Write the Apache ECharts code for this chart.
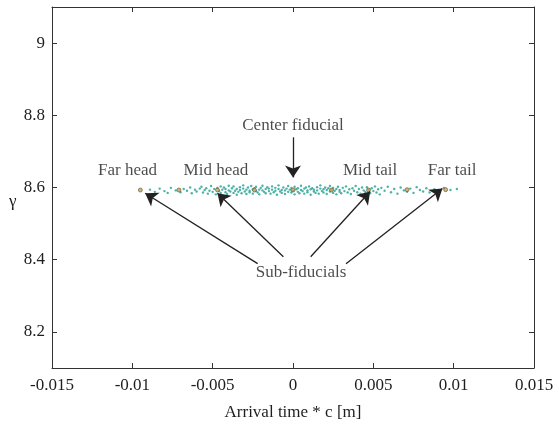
<!DOCTYPE html>
<html>
<head>
<meta charset="utf-8">
<script src="https://cdn.jsdelivr.net/npm/echarts@6/dist/echarts.min.js"></script>
<style>
html,body{margin:0;padding:0;background:#fff;}
#c{width:559px;height:429px;}
</style>
</head>
<body>
<div id="c"></div>
<script>
// Axis ticks
const xTicks = [-0.015, -0.01, -0.005, 0, 0.005, 0.01, 0.015];
const xTickLabels = ['-0.015', '-0.01', '-0.005', '0', '0.005', '0.01', '0.015'];
const yTicks = [8.2, 8.4, 8.6, 8.8, 9];
const yTickLabels = ['8.2', '8.4', '8.6', '8.8', '9'];

// Fiducial particles (x = arrival time * c [m], y = gamma)
const fiducialX = [-0.0095, -0.0071, -0.0047, -0.0024, 0, 0.0024, 0.0047, 0.0071, 0.0095];
const fiducialY = [8.593, 8.593, 8.593, 8.593, 8.593, 8.593, 8.593, 8.594, 8.594];

// Bunch particle cloud
const cloud = [
[-0.0089,8.594],[-0.0086,8.588],[-0.0083,8.597],[-0.0080,8.590],[-0.0078,8.585],[-0.0076,8.599],[-0.0073,8.592],[-0.0070,8.587],[-0.0068,8.596],[-0.0066,8.591],[-0.0064,8.600],[-0.0063,8.584],[-0.0061,8.594],[-0.0060,8.589],[-0.0058,8.597],
[-0.0057,8.602],[-0.0056,8.586],[-0.0055,8.593],[-0.0054,8.598],[-0.0053,8.583],[-0.0052,8.591],[-0.0051,8.604],[-0.0050,8.588],[-0.0049,8.596],[-0.0048,8.581],[-0.0047,8.599],[-0.0046,8.590],[-0.0045,8.603],[-0.0045,8.585],[-0.0044,8.594],[-0.0043,8.600],[-0.0042,8.587],[-0.0042,8.596],[-0.0041,8.582],[-0.0040,8.592],[-0.0040,8.605],[-0.0039,8.589],
[-0.0038,8.598],[-0.0037,8.585],[-0.0037,8.603],[-0.0036,8.591],[-0.0035,8.580],[-0.0035,8.596],[-0.0034,8.588],[-0.0033,8.601],[-0.0033,8.593],[-0.0032,8.584],[-0.0031,8.597],[-0.0031,8.606],[-0.0030,8.589],[-0.0029,8.594],[-0.0029,8.582],[-0.0028,8.600],[-0.0027,8.591],[-0.0027,8.587],[-0.0026,8.604],[-0.0025,8.595],[-0.0025,8.583],[-0.0024,8.598],[-0.0023,8.590],[-0.0023,8.602],[-0.0022,8.586],[-0.0021,8.594],[-0.0021,8.581],[-0.0020,8.599],[-0.0019,8.592],[-0.0019,8.605],[-0.0018,8.588],[-0.0017,8.596],[-0.0017,8.584],[-0.0016,8.601],[-0.0015,8.590],[-0.0015,8.597],[-0.0014,8.583],[-0.0013,8.594],[-0.0013,8.603],[-0.0012,8.587],[-0.0011,8.599],[-0.0011,8.591],[-0.0010,8.580],[-0.0009,8.596],[-0.0009,8.606],[-0.0008,8.589],[-0.0007,8.593],[-0.0007,8.585],[-0.0006,8.600],[-0.0005,8.592],[-0.0005,8.582],[-0.0004,8.597],[-0.0003,8.588],[-0.0003,8.604],[-0.0002,8.594],[-0.0001,8.586],[-0.0001,8.599],[0.0000,8.591],[0.0001,8.581],[0.0001,8.602],[0.0002,8.595],[0.0003,8.588],[0.0003,8.598],[0.0004,8.584],[0.0005,8.593],[0.0005,8.605],[0.0006,8.590],[0.0007,8.597],[0.0007,8.583],[0.0008,8.600],[0.0009,8.592],[0.0009,8.587],[0.0010,8.603],[0.0011,8.595],[0.0011,8.580],[0.0012,8.598],[0.0013,8.589],[0.0013,8.594],[0.0014,8.585],[0.0015,8.601],[0.0015,8.592],[0.0016,8.583],[0.0017,8.597],[0.0017,8.606],[0.0018,8.590],[0.0019,8.595],[0.0019,8.586],[0.0020,8.600],[0.0021,8.593],[0.0021,8.582],[0.0022,8.598],[0.0023,8.589],[0.0023,8.604],[0.0024,8.594],[0.0025,8.585],[0.0025,8.599],[0.0026,8.591],[0.0027,8.581],[0.0027,8.596],[0.0028,8.602],[0.0029,8.588],[0.0029,8.593],[0.0030,8.584],
[0.0031,8.599],[0.0032,8.590],[0.0033,8.603],[0.0034,8.586],[0.0035,8.595],[0.0036,8.582],[0.0037,8.598],[0.0038,8.591],[0.0039,8.604],[0.0040,8.587],[0.0041,8.596],[0.0042,8.583],[0.0043,8.600],[0.0044,8.592],[0.0045,8.588],[0.0046,8.601],[0.0047,8.594],[0.0048,8.584],[0.0049,8.598],[0.0050,8.590],[0.0051,8.603],[0.0052,8.586],[0.0053,8.595],[0.0054,8.581],[0.0055,8.599],
[0.0057,8.591],[0.0059,8.602],[0.0061,8.587],[0.0063,8.596],[0.0065,8.583],[0.0067,8.600],[0.0069,8.592],[0.0071,8.588],[0.0073,8.597],[0.0075,8.585],[0.0077,8.601],[0.0079,8.593],[0.0081,8.589],[0.0083,8.598],[0.0085,8.586],[0.0088,8.595],[0.0091,8.590],[0.0094,8.599],[0.0098,8.593],[0.0102,8.596]
];

// Annotation texts and their anchor positions (data coordinates)
const annText = ['Far head', 'Mid head', 'Mid tail', 'Far tail', 'Center fiducial', 'Sub-fiducials'];
const annX = [-0.0103, -0.0048, 0.0048, 0.0099, 0.0000, 0.0005];
const annY = [8.647, 8.647, 8.647, 8.647, 8.772, 8.364];

// Arrows: start point -> end point (data coordinates)
const arrowStartX = [0.0000, -0.0022, -0.0006, 0.0011, 0.0033];
const arrowStartY = [8.739, 8.389, 8.408, 8.408, 8.389];
const arrowEndX = [0.0000, -0.0092, -0.0047, 0.0048, 0.0093];
const arrowEndY = [8.628, 8.584, 8.584, 8.589, 8.597];

const FONT = '"Liberation Serif", "DejaVu Serif", serif';
const TXT = '#1e1e1e';
const AX = '#333';

const chart = echarts.init(document.getElementById('c'), null, {renderer: 'canvas'});

const option = {
  animation: false,
  backgroundColor: '#fff',
  grid: {left: 52, right: 25, top: 7, bottom: 61, containLabel: false},
  graphic: [{
    type: 'text', left: 9, top: 193, silent: true,
    style: {text: 'γ', font: '17px ' + FONT, fill: TXT}
  }],
  xAxis: [{
    type: 'value', min: -0.015, max: 0.015, interval: 0.005,
    name: 'Arrival time * c [m]', nameLocation: 'middle', nameGap: 36,
    nameTextStyle: {fontFamily: FONT, fontSize: 17, color: TXT},
    axisLine: {show: true, onZero: false, lineStyle: {color: AX, width: 1}},
    axisTick: {show: true, inside: true, length: 5, lineStyle: {color: AX}},
    axisLabel: {fontFamily: FONT, fontSize: 17, color: TXT, margin: 9,
      formatter: function (v) { const i = xTicks.findIndex(t => Math.abs(t - v) < 1e-9); return i >= 0 ? xTickLabels[i] : ''; }},
    splitLine: {show: false}
  }, {
    type: 'value', position: 'top', min: -0.015, max: 0.015, interval: 0.005,
    axisLine: {show: true, onZero: false, lineStyle: {color: AX, width: 1}},
    axisTick: {show: true, inside: true, length: 5, lineStyle: {color: AX}},
    axisLabel: {show: false}, splitLine: {show: false}
  }],
  yAxis: [{
    type: 'value', min: 8.1, max: 9.1,
    axisLine: {show: true, onZero: false, lineStyle: {color: AX, width: 1}},
    axisTick: {show: true, inside: true, length: 5, customValues: yTicks, lineStyle: {color: AX}},
    axisLabel: {fontFamily: FONT, fontSize: 17, color: TXT, margin: 7, customValues: yTicks,
      formatter: function (v) { const i = yTicks.findIndex(t => Math.abs(t - v) < 1e-9); return i >= 0 ? yTickLabels[i] : ''; }},
    splitLine: {show: false}
  }, {
    type: 'value', position: 'right', min: 8.1, max: 9.1,
    axisLine: {show: true, onZero: false, lineStyle: {color: AX, width: 1}},
    axisTick: {show: true, inside: true, length: 5, customValues: yTicks, lineStyle: {color: AX}},
    axisLabel: {show: false}, splitLine: {show: false}
  }],
  series: [
    {
      name: 'cloud', type: 'scatter', xAxisIndex: 0, yAxisIndex: 0,
      symbol: 'circle', symbolSize: 2.4, silent: true,
      itemStyle: {color: '#2fa596', opacity: 0.85},
      data: cloud
    },
    {
      name: 'fiducials', type: 'scatter', xAxisIndex: 0, yAxisIndex: 0,
      symbol: 'circle', symbolSize: 4, silent: true,
      itemStyle: {color: '#c9a24a', borderColor: '#555', borderWidth: 0.8},
      data: fiducialX.map((x, i) => [x, fiducialY[i]]),
      markLine: {
        silent: true, animation: false,
        symbol: ['none', 'arrow'], symbolSize: 12,
        label: {show: false},
        lineStyle: {color: '#222', width: 1.3, type: 'solid'},
        data: arrowStartX.map((x, i) => [
          {coord: [x, arrowStartY[i]], symbol: 'none'},
          {coord: [arrowEndX[i], arrowEndY[i]], symbol: 'arrow', symbolSize: 12}
        ])
      }
    },
    {
      name: 'annotations', type: 'scatter', xAxisIndex: 0, yAxisIndex: 0,
      symbol: 'circle', symbolSize: 0, silent: true,
      label: {show: true, position: 'inside', fontFamily: FONT, fontSize: 17, color: TXT,
        formatter: p => p.name},
      data: annText.map((t, i) => ({name: t, value: [annX[i], annY[i]]}))
    }
  ]
};
chart.setOption(option);
</script>
</body>
</html>
